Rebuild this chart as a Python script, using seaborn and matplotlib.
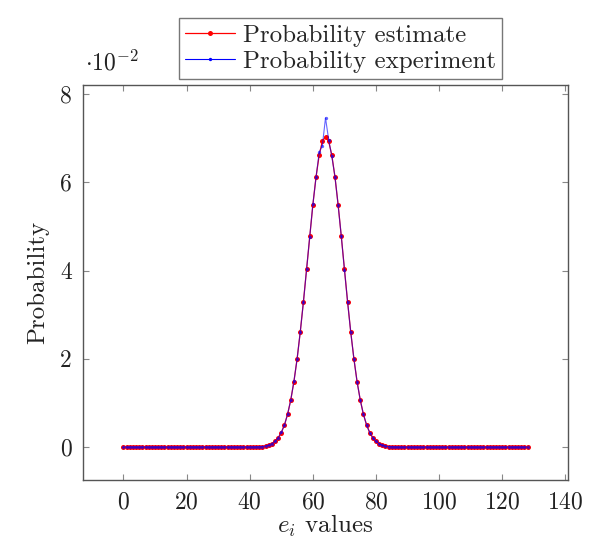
import numpy as np
import pandas as pd
import seaborn as sns
import matplotlib
matplotlib.use("Agg")
import matplotlib.pyplot as plt
from matplotlib.ticker import FuncFormatter

# ---- data ----
e_values = list(range(0, 129))

prob_estimate = [
    0.0, 0.0, 0.0, 0.0, 0.0, 0.0, 0.0, 0.0, 0.0, 0.0,
    0.0, 0.0, 0.0, 0.0, 0.0, 0.0, 0.0, 0.0, 0.0, 0.0,
    0.0, 0.0, 0.0, 0.0, 0.0, 0.0, 0.0, 0.0, 0.0, 0.0,
    0.0, 0.0, 0.0, 0.0, 0.0, 0.0, 0.0, 0.0, 0.0, 0.0,
    0.0, 0.00002, 0.00003, 0.00007, 0.00013, 0.00024, 0.00043, 0.00076, 0.00128, 0.00208,
    0.00329, 0.00503, 0.00745, 0.01069, 0.01484, 0.01997, 0.02603, 0.03288, 0.04025, 0.04775,
    0.05491, 0.06121, 0.06615, 0.06930, 0.07038, 0.06930, 0.06615, 0.06121, 0.05491, 0.04775,
    0.04025, 0.03288, 0.02603, 0.01997, 0.01484, 0.01069, 0.00745, 0.00503, 0.00329, 0.00208,
    0.00128, 0.00076, 0.00043, 0.00024, 0.00013, 0.00007, 0.00003, 0.00002, 0.0, 0.0,
    0.0, 0.0, 0.0, 0.0, 0.0, 0.0, 0.0, 0.0, 0.0, 0.0,
    0.0, 0.0, 0.0, 0.0, 0.0, 0.0, 0.0, 0.0, 0.0, 0.0,
    0.0, 0.0, 0.0, 0.0, 0.0, 0.0, 0.0, 0.0, 0.0, 0.0,
    0.0, 0.0, 0.0, 0.0, 0.0, 0.0, 0.0, 0.0, 0.0,
]

prob_experiment = [
    0.0, 0.0, 0.0, 0.0, 0.0, 0.0, 0.0, 0.0, 0.0, 0.0,
    0.0, 0.0, 0.0, 0.0, 0.0, 0.0, 0.0, 0.0, 0.0, 0.0,
    0.0, 0.0, 0.0, 0.0, 0.0, 0.0, 0.0, 0.0, 0.0, 0.0,
    0.0, 0.0, 0.0, 0.0, 0.0, 0.0, 0.0, 0.0, 0.0, 0.0,
    0.0, 0.00002, 0.00004, 0.00007, 0.00012, 0.00025, 0.00044, 0.00075, 0.00130, 0.00206,
    0.00332, 0.00500, 0.00748, 0.01065, 0.01490, 0.01990, 0.02610, 0.03280, 0.04030, 0.04770,
    0.05500, 0.06110, 0.06680, 0.06830, 0.07460, 0.06970, 0.06590, 0.06130, 0.05480, 0.04780,
    0.04020, 0.03290, 0.02600, 0.02000, 0.01480, 0.01072, 0.00742, 0.00505, 0.00327, 0.00210,
    0.00127, 0.00077, 0.00042, 0.00024, 0.00013, 0.00007, 0.00003, 0.00001, 0.0, 0.0,
    0.0, 0.0, 0.0, 0.0, 0.0, 0.0, 0.0, 0.0, 0.0, 0.0,
    0.0, 0.0, 0.0, 0.0, 0.0, 0.0, 0.0, 0.0, 0.0, 0.0,
    0.0, 0.0, 0.0, 0.0, 0.0, 0.0, 0.0, 0.0, 0.0, 0.0,
    0.0, 0.0, 0.0, 0.0, 0.0, 0.0, 0.0, 0.0, 0.0,
]

x_ticks = [0, 20, 40, 60, 80, 100, 120, 140]
y_ticks = [0.0, 0.02, 0.04, 0.06, 0.08]

label_est = "Probability estimate"
label_exp = "Probability experiment"

# ---- style ----
sns.set_theme(style="white")
plt.rcParams["font.family"] = ["cmr10", "DejaVu Serif"]
plt.rcParams["mathtext.fontset"] = "cm"
plt.rcParams["axes.formatter.use_mathtext"] = True
plt.rcParams["axes.unicode_minus"] = False

fig = plt.figure(figsize=(6.05, 5.5), dpi=100)
ax = fig.add_axes([83 / 605, 1 - 480 / 550, 485 / 605, 395 / 550])

df = pd.DataFrame({"e": e_values, "est": prob_estimate, "exp": prob_experiment})

sns.lineplot(data=df, x="e", y="est", ax=ax, color="#ff0000", linewidth=0.9,
             marker="o", markersize=3.6, markeredgewidth=0, label=label_est)
sns.lineplot(data=df, x="e", y="exp", ax=ax, color="#0000ff", linewidth=0.8,
             marker="o", markersize=2.4, markeredgewidth=0, label=label_exp, alpha=0.6)

ax.set_xlim(-12.8, 140.8)
ax.set_ylim(-0.00746, 0.08206)
ax.set_xticks(x_ticks)
ax.set_yticks(y_ticks)
ax.yaxis.set_major_formatter(FuncFormatter(lambda v, p: f"{v * 100:g}"))

for sp in ax.spines.values():
    sp.set_color("#555555")
    sp.set_linewidth(1.0)

ax.tick_params(axis="both", which="major", direction="in", length=4, width=0.8,
               color="#888888", labelsize=17, labelcolor="#222222",
               top=True, right=True, bottom=True, left=True, pad=8)

ax.set_xlabel(r"$e_i$ values", fontsize=18, color="#222222", labelpad=0)
ax.set_ylabel("Probability", fontsize=18, color="#222222", labelpad=8)

ax.text(0.005, 1.025, r"$\cdot 10^{-2}$", transform=ax.transAxes,
        fontsize=17, color="#222222", ha="left", va="bottom")

leg = ax.legend(loc="lower center", bbox_to_anchor=(0.531, 1.015), frameon=True,
                fancybox=False, fontsize=18, handlelength=2.0, handletextpad=0.3,
                borderpad=0.25, labelspacing=0.15, borderaxespad=0)
leg.get_frame().set_edgecolor("#555555")
leg.get_frame().set_linewidth(1.0)
for h in leg.legend_handles:
    h.set_alpha(1.0)

fig.savefig("out.png", dpi=100)
